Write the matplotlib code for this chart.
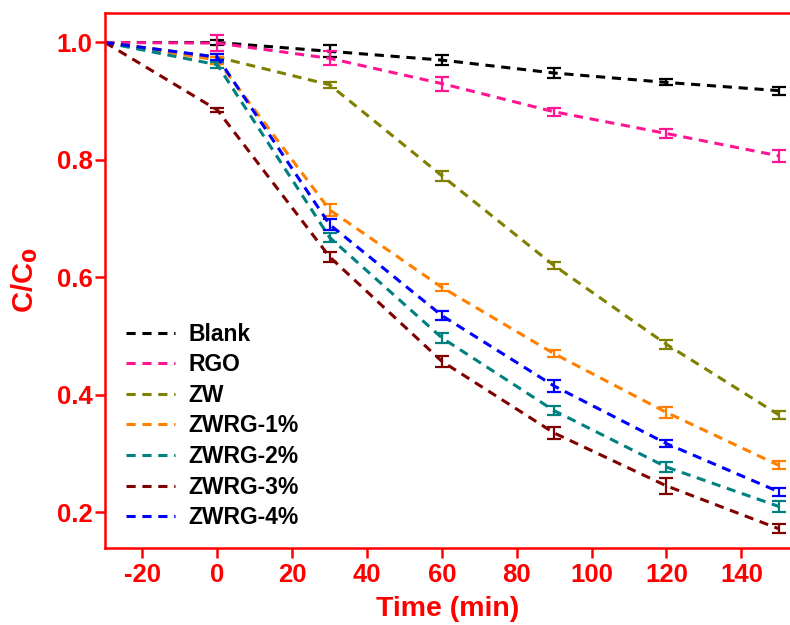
import matplotlib
matplotlib.use("Agg")
import matplotlib.pyplot as plt

plt.rcParams['font.family'] = ['Liberation Sans', 'DejaVu Sans']
plt.rcParams['font.weight'] = 'bold'
plt.rcParams['axes.unicode_minus'] = False

time_min = [-30, 0, 30, 60, 90, 120, 150]

labels = ["Blank", "RGO", "ZW", "ZWRG-1%", "ZWRG-2%", "ZWRG-3%", "ZWRG-4%"]
colors = ["#000000", "#FF1493", "#808000", "#FF8000", "#008080", "#800000", "#0000FF"]

blank = [1.0, 1.0, 0.985, 0.970, 0.948, 0.932, 0.918]
rgo = [1.0, 0.999, 0.973, 0.930, 0.882, 0.845, 0.807]
zw = [1.0, 0.975, 0.928, 0.773, 0.620, 0.486, 0.366]
zwrg1 = [1.0, 0.970, 0.715, 0.583, 0.470, 0.370, 0.280]
zwrg2 = [1.0, 0.962, 0.668, 0.497, 0.373, 0.277, 0.210]
zwrg3 = [1.0, 0.885, 0.635, 0.457, 0.335, 0.245, 0.172]
zwrg4 = [1.0, 0.975, 0.690, 0.535, 0.415, 0.317, 0.235]

blank_err = [0, 0.004, 0.010, 0.008, 0.008, 0.005, 0.007]
rgo_err = [0, 0.013, 0.012, 0.012, 0.007, 0.008, 0.010]
zw_err = [0, 0.006, 0.005, 0.009, 0.006, 0.008, 0.007]
zwrg1_err = [0, 0.006, 0.010, 0.006, 0.006, 0.010, 0.007]
zwrg2_err = [0, 0.005, 0.008, 0.009, 0.008, 0.008, 0.010]
zwrg3_err = [0, 0.004, 0.008, 0.010, 0.010, 0.014, 0.008]
zwrg4_err = [0, 0.005, 0.010, 0.008, 0.010, 0.006, 0.007]

series = [blank, rgo, zw, zwrg1, zwrg2, zwrg3, zwrg4]
errors = [blank_err, rgo_err, zw_err, zwrg1_err, zwrg2_err, zwrg3_err, zwrg4_err]

fig = plt.figure(figsize=(7.9, 6.25), dpi=100)
ax = fig.add_axes([0.133, 0.123, 0.867, 0.856])

red = "#FF0000"
for y, err, c, lab in zip(series, errors, colors, labels):
    ax.plot(time_min, y, linestyle=(0, (3, 2.2)), color=c, lw=2.2, label=lab)
    # no error bar on the starting point
    ax.errorbar(time_min[1:], y[1:], yerr=err[1:], fmt="none", ecolor=c,
                elinewidth=1.6, capsize=5, capthick=1.6)

ax.set_xlim(-30, 153)
ax.set_ylim(0.139, 1.05)
ax.set_xticks([-20, 0, 20, 40, 60, 80, 100, 120, 140])
ax.set_yticks([0.2, 0.4, 0.6, 0.8, 1.0])
ax.set_yticklabels(["0.2", "0.4", "0.6", "0.8", "1.0"])

for side in ["left", "bottom", "top"]:
    ax.spines[side].set_color(red)
    ax.spines[side].set_linewidth(1.8)
ax.spines["right"].set_visible(False)

ax.tick_params(axis="both", colors=red, labelsize=18.5, width=1.8, length=7,
               direction="out")
ax.tick_params(axis="y", pad=2)
ax.tick_params(axis="x", pad=4)
for t in ax.get_xticklabels() + ax.get_yticklabels():
    t.set_fontweight("bold")

ax.set_xlabel("Time (min)", color=red, fontsize=20.5, fontweight="bold", labelpad=6)
ax.set_ylabel("C/C$_\\mathbf{0}$", color=red, fontsize=21, fontweight="bold", labelpad=12)

leg = ax.legend(loc="lower left", bbox_to_anchor=(0.0, -0.003), frameon=False,
                fontsize=16.5, handlelength=2.15, labelspacing=0.33, handletextpad=0.6)
for t in leg.get_texts():
    t.set_fontweight("bold")

fig.savefig("out.png", dpi=100)
